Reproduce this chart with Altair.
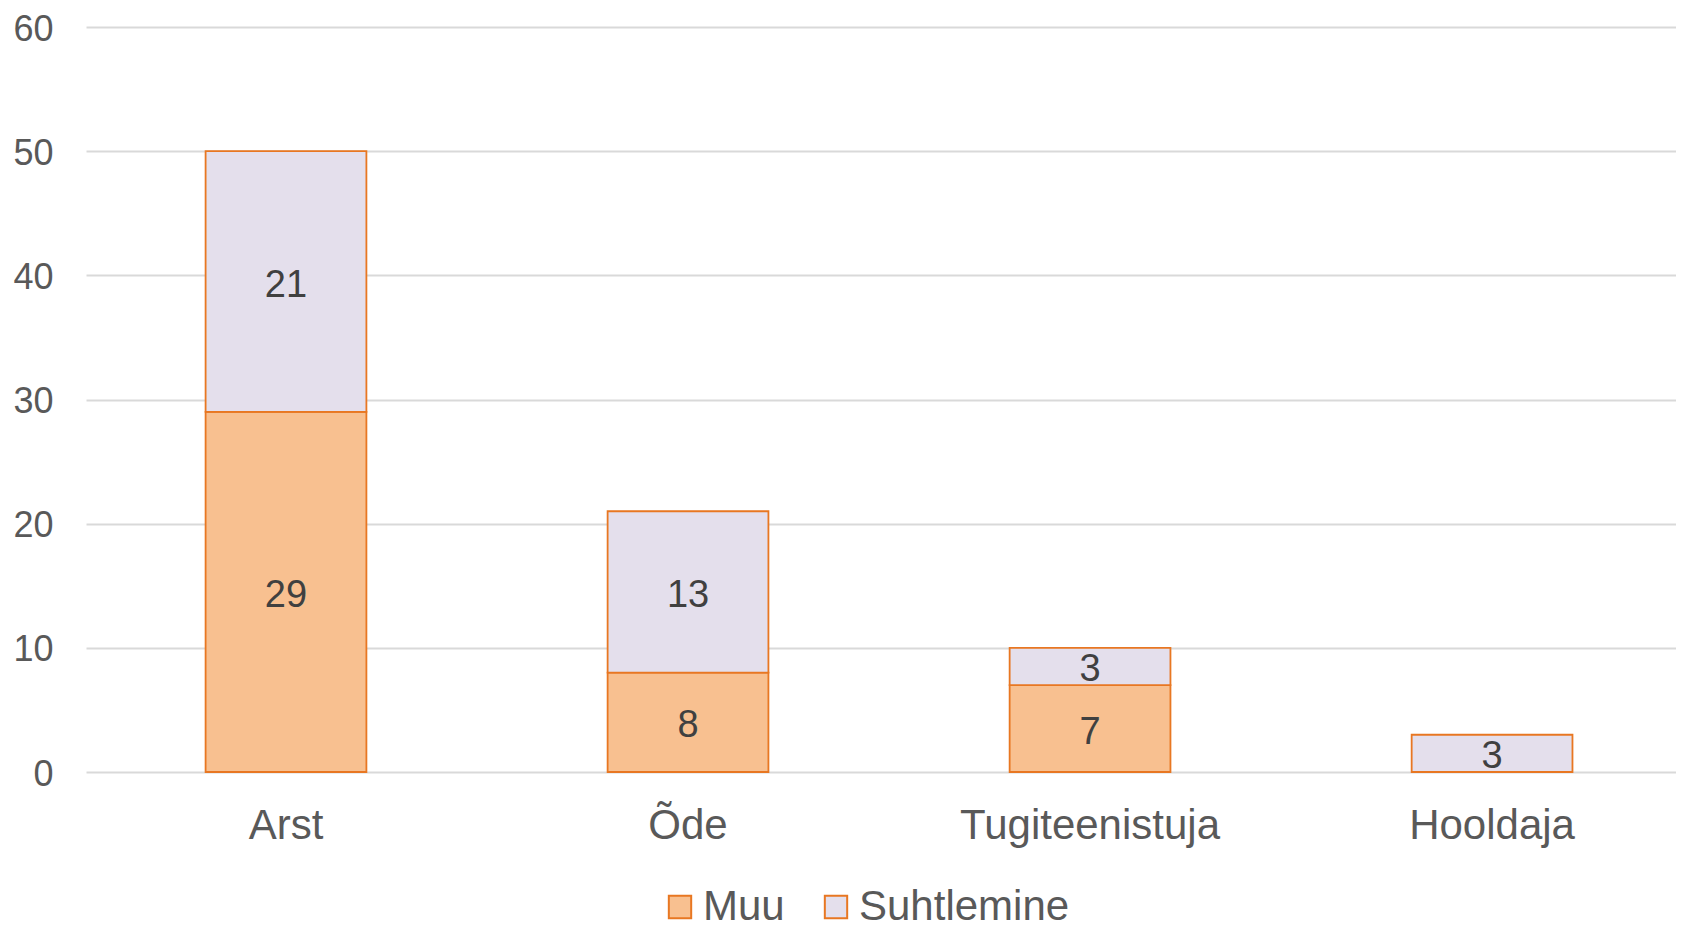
import altair as alt
import pandas as pd

categories = ["Arst", "Õde", "Tugiteenistuja", "Hooldaja"]
muu = [29, 8, 7, 0]
suhtlemine = [21, 13, 3, 3]
series = ["Muu", "Suhtlemine"]
y_ticks = [0, 10, 20, 30, 40, 50, 60]

rows = []
for i, c in enumerate(categories):
    rows.append({"cat": c, "series": "Muu", "order": 0, "value": muu[i]})
    rows.append({"cat": c, "series": "Suhtlemine", "order": 1, "value": suhtlemine[i]})
df = pd.DataFrame(rows)

FONT = "Liberation Sans"
ORANGE = "#E87722"

x_enc = alt.X(
    "cat:N",
    sort=categories,
    title=None,
    scale=alt.Scale(paddingInner=0.6, paddingOuter=0.2775, align=0.536),
    axis=alt.Axis(
        labelAngle=0,
        labelFontSize=42,
        labelFont=FONT,
        labelColor="#595959",
        labelPadding=33,
        labelLimit=0,
        ticks=False,
        domain=False,
        grid=False,
    ),
)

base = alt.Chart(df).transform_stack(
    stack="value", as_=["y0", "y1"], groupby=["cat"], sort=[alt.SortField("order")]
).transform_calculate(mid="(datum.y0 + datum.y1) / 2")

bars = base.mark_bar(stroke=ORANGE, strokeWidth=1.8).encode(
    x=x_enc,
    y=alt.Y(
        "y0:Q",
        title=None,
        scale=alt.Scale(domain=[0, 60], nice=False),
        axis=alt.Axis(
            values=y_ticks,
            labelFontSize=36,
            labelFont=FONT,
            labelColor="#595959",
            labelPadding=33,
            labelOffset=2,
            ticks=False,
            domain=False,
            grid=True,
            gridColor="#D9D9D9",
            gridWidth=2,
        ),
    ),
    y2="y1:Q",
    color=alt.Color(
        "series:N",
        scale=alt.Scale(domain=series, range=["#F8C090", "#E4DFEC"]),
        legend=alt.Legend(
            title=None,
            orient="none",
            direction="horizontal",
            legendX=573,
            legendY=859,
            padding=0,
            symbolType="square",
            symbolSize=500,
            symbolStrokeColor=ORANGE,
            symbolStrokeWidth=2,
            symbolOpacity=1,
            labelFontSize=42,
            labelFont=FONT,
            labelColor="#595959",
            labelOffset=2,
            labelLimit=0,
            columnPadding=30,
        ),
    ),
)

labels = base.transform_filter("datum.value > 0").mark_text(
    fontSize=38, font=FONT, color="#404040", baseline="middle", dy=4
).encode(
    x=alt.X("cat:N", sort=categories),
    y=alt.Y("mid:Q"),
    text=alt.Text("value:Q"),
)

chart = (
    alt.layer(bars, labels)
    .properties(
        width=1590,
        height=745,
        autosize=alt.AutoSizeParams(type="none"),
        padding={"left": 78, "top": 19, "right": 0, "bottom": 150},
        background="white",
    )
    .configure_view(stroke=None)
)

chart.save("out.html", embed_options={"renderer": "svg", "actions": False})
